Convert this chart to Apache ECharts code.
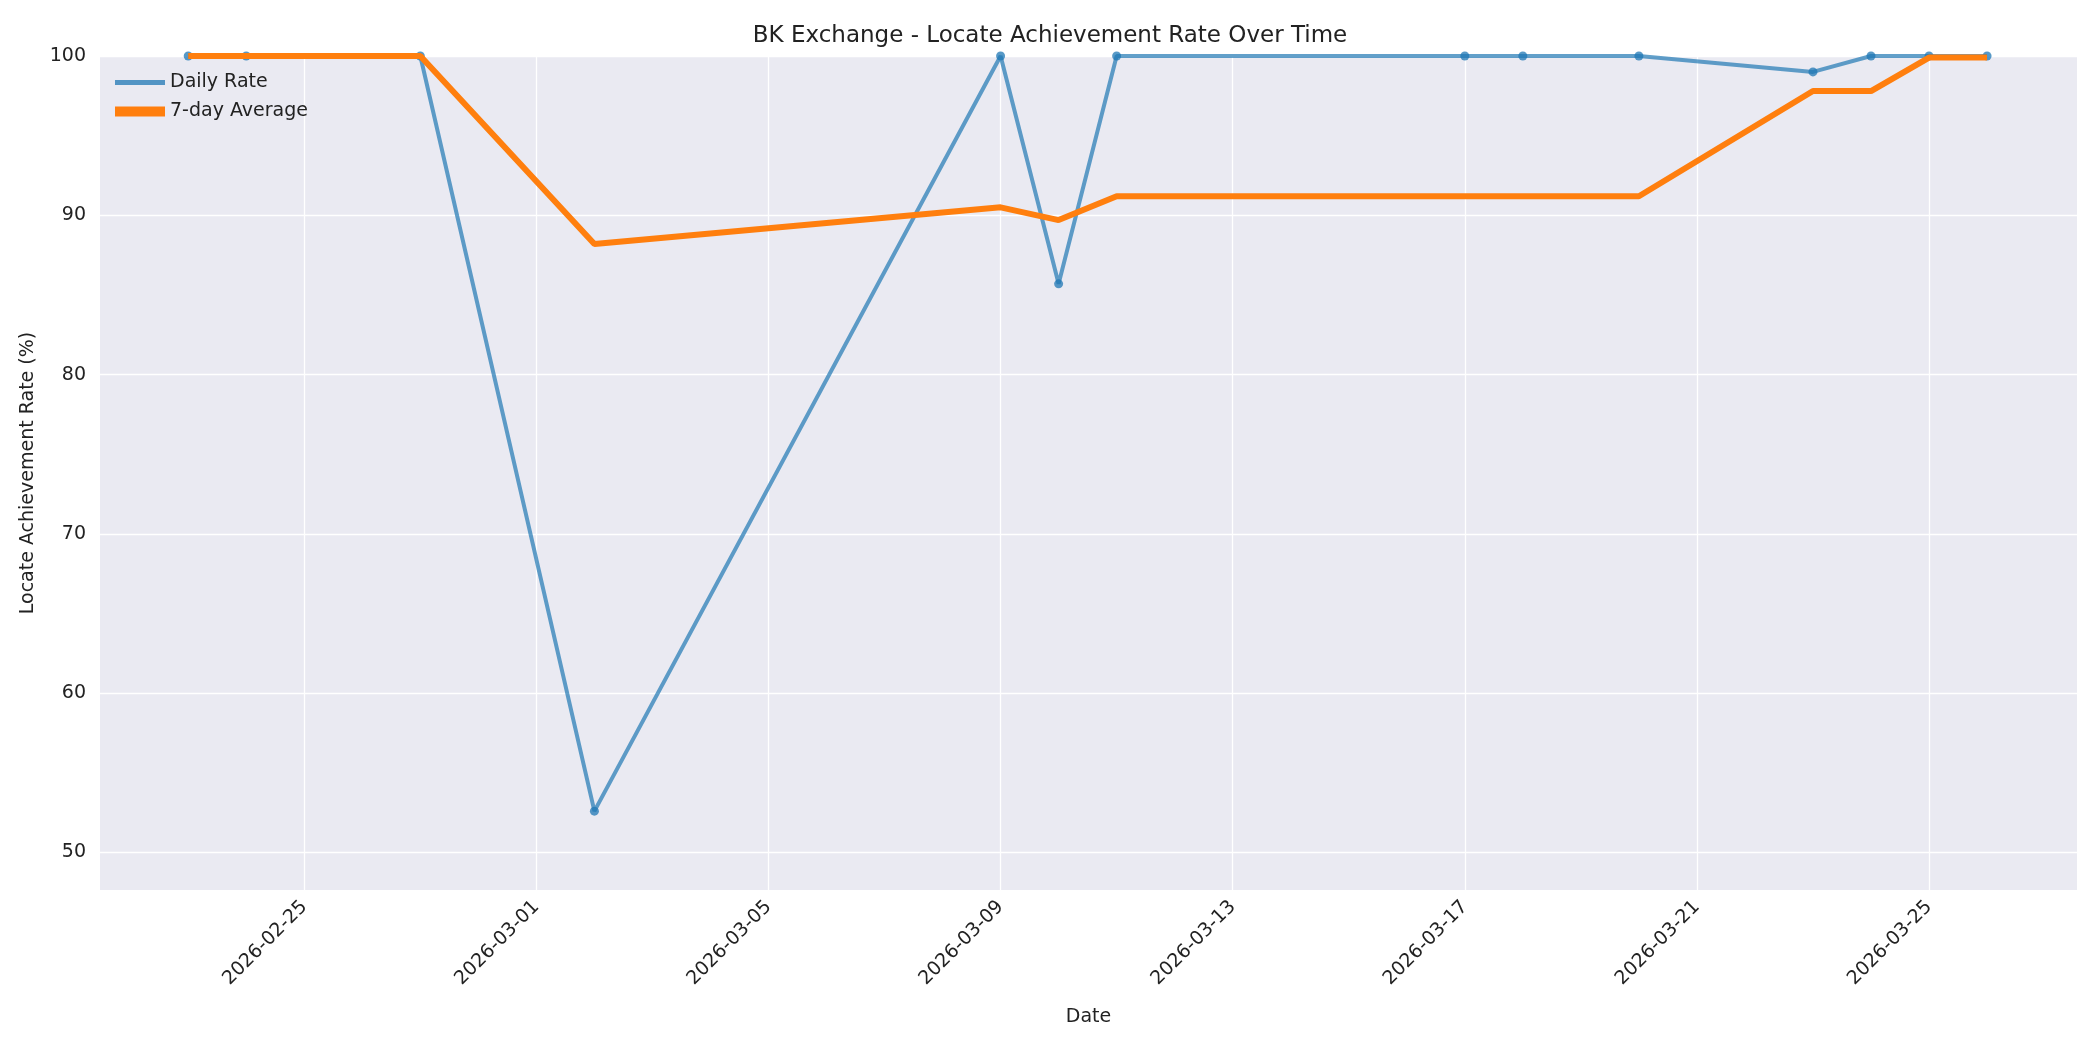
<!DOCTYPE html>
<html><head><meta charset="utf-8">
<script src="https://cdn.jsdelivr.net/npm/echarts@6/dist/echarts.min.js"></script>
<style>html,body{margin:0;background:#fff}#c{width:2100px;height:1050px}</style>
</head><body><div id="c"></div>
<script>
const dates = ['2026-02-23','2026-02-24','2026-02-27','2026-03-02','2026-03-09','2026-03-10','2026-03-11','2026-03-17','2026-03-18','2026-03-20','2026-03-23','2026-03-24','2026-03-25','2026-03-26'];
const dailyRate = [100,100,100,52.6,100,85.7,100,100,100,100,99,100,100,100];
const avg7 = [100,100,100,88.2,90.5,89.7,91.2,91.2,91.2,91.2,97.8,97.8,99.9,99.9];
const tickLabels = ['2026-02-25','2026-03-01','2026-03-05','2026-03-09','2026-03-13','2026-03-17','2026-03-21','2026-03-25'];
const base = Date.UTC(2026,1,21);
const toDay = s => (Date.parse(s+'T00:00:00Z')-base)/86400000;
const fromDay = d => new Date(base+Math.round(d)*86400000).toISOString().slice(0,10);
const tickDays = tickLabels.map(toDay);
const font = 'DejaVu Sans';
const chart = echarts.init(document.getElementById('c'));
chart.setOption({
  backgroundColor:'#fff',
  title:{text:'BK Exchange - Locate Achievement Rate Over Time',left:'center',top:20,textStyle:{fontFamily:font,fontSize:23,fontWeight:'normal',color:'#222'}},
  legend:{left:110,top:68,orient:'vertical',itemGap:10,itemWidth:50,itemHeight:14,textStyle:{fontFamily:font,fontSize:19,color:'#222'},
    data:[{name:'Daily Rate',icon:'path://M0,6L20,6L20,8L0,8Z'},{name:'7-day Average',icon:'path://M0,5L20,5L20,9L0,9Z'}]},
  grid:{left:100,right:23,top:56,bottom:160,show:true,backgroundColor:'#EAEAF2',borderWidth:0},
  xAxis:{type:'value',min:0.48,max:34.55,name:'Date',nameLocation:'middle',nameGap:118,
    nameTextStyle:{fontFamily:font,fontSize:19,color:'#222'},
    axisLine:{show:false},axisTick:{show:false,customValues:tickDays},
    axisLabel:{customValues:tickDays,rotate:45,fontFamily:font,fontSize:19,color:'#222',margin:14,formatter:v=>fromDay(v)},
    splitLine:{show:true,lineStyle:{color:'#fff',width:1.3}}},
  yAxis:{type:'value',min:47.65,max:100,name:'Locate Achievement Rate (%)',nameLocation:'middle',nameGap:62,
    nameTextStyle:{fontFamily:font,fontSize:19,color:'#222'},
    axisLine:{show:false},axisTick:{show:false,customValues:[50,60,70,80,90,100]},
    axisLabel:{customValues:[50,60,70,80,90,100],fontFamily:font,fontSize:19,color:'#222',margin:14},
    splitLine:{show:true,lineStyle:{color:'#fff',width:1.3}}},
  series:[
    {name:'Daily Rate',type:'line',data:dates.map((d,i)=>[toDay(d),dailyRate[i]]),symbol:'circle',symbolSize:9,
      itemStyle:{color:'#1f77b4',opacity:0.75},lineStyle:{color:'#1f77b4',width:4,opacity:0.7},z:2},
    {name:'7-day Average',type:'line',data:dates.map((d,i)=>[toDay(d),avg7[i]]),symbol:'none',
      itemStyle:{color:'#ff7f0e'},lineStyle:{color:'#ff7f0e',width:6},z:3}
  ]
});
</script></body></html>
